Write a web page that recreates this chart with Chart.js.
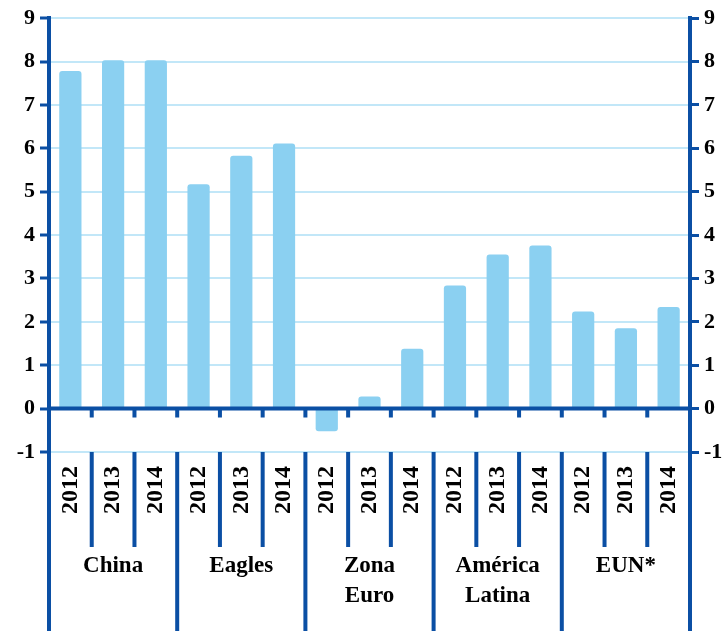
<!DOCTYPE html>
<html>
<head>
<meta charset="utf-8">
<script src="https://cdn.jsdelivr.net/npm/chart.js@4.4.1/dist/chart.umd.min.js"></script>
<style>
  html, body { margin: 0; padding: 0; background: #fff; }
  #wrap { width: 728px; height: 631px; position: relative; }
</style>
</head>
<body>
<div id="wrap"><canvas id="chart"></canvas></div>
<script>
const years = ["2012", "2013", "2014"];
const groups = [["China"], ["Eagles"], ["Zona", "Euro"], ["América", "Latina"], ["EUN*"]];
const labels = groups.flatMap(() => years);
const values = [7.78, 8.03, 8.03, 5.17, 5.83, 6.11, -0.52, 0.28, 1.38, 2.84, 3.55, 3.76, 2.24, 1.85, 2.34];
const yMin = -1;
const yMax = 9;

const dark = "#0b4fa4";
const light = "#c2e7f8";
const barColor = "#8bd0f1";
const serif = "'Liberation Serif', 'Times New Roman', serif";

// separators, zero line and group names under the plot
const extras = {
  id: "extras",
  afterDatasetsDraw(chart) {
    const { ctx, chartArea, scales } = chart;
    const y0 = scales.y.getPixelForValue(0);
    ctx.save();
    ctx.strokeStyle = dark;
    ctx.lineWidth = 4;
    ctx.beginPath();
    ctx.moveTo(chartArea.left, y0);
    ctx.lineTo(chartArea.right, y0);
    ctx.stroke();
    ctx.restore();
  },
  afterDraw(chart) {
    const { ctx, chartArea, scales } = chart;
    const x = scales.x;
    const y0 = scales.y.getPixelForValue(0);
    const bottom = chart.height;
    ctx.save();
    ctx.strokeStyle = dark;
    ctx.lineWidth = 4;
    ctx.beginPath();
    for (let i = 1; i < labels.length; i++) {
      const bx = (x.getPixelForValue(i - 1) + x.getPixelForValue(i)) / 2;
      ctx.moveTo(bx, y0);
      ctx.lineTo(bx, y0 + 9);
      ctx.moveTo(bx, chartArea.bottom);
      ctx.lineTo(bx, i % 3 === 0 ? bottom : 547);
    }
    ctx.moveTo(chartArea.left, chartArea.bottom);
    ctx.lineTo(chartArea.left, bottom);
    ctx.moveTo(chartArea.right, chartArea.bottom);
    ctx.lineTo(chartArea.right, bottom);
    ctx.stroke();

    ctx.fillStyle = "#000";
    ctx.font = "bold 23px " + serif;
    ctx.textAlign = "center";
    ctx.textBaseline = "middle";
    groups.forEach((g, gi) => {
      const cx = x.getPixelForValue(gi * 3 + 1);
      g.forEach((line, li) => ctx.fillText(line, cx, 566 + li * 30));
    });
    ctx.restore();
  },
};

const yTicks = {
  stepSize: 1,
  color: "#000",
  padding: 5,
  font: { family: serif, size: 22, weight: "bold" },
};

new Chart(document.getElementById("chart"), {
  type: "bar",
  data: {
    labels: labels,
    datasets: [
      {
        data: values,
        backgroundColor: barColor,
        borderRadius: 3,
        barPercentage: 0.52,
        categoryPercentage: 1,
      },
    ],
  },
  options: {
    responsive: true,
    maintainAspectRatio: false,
    animation: false,
    layout: { padding: { top: 7 } },
    plugins: { legend: { display: false }, tooltip: { enabled: false } },
    scales: {
      x: {
        grid: { display: false },
        border: { display: false },
        ticks: {
          color: "#000",
          autoSkip: false,
          minRotation: 90,
          maxRotation: 90,
          padding: 6,
          font: { family: serif, size: 24, weight: "bold" },
        },
        afterFit(scale) {
          scale.height = 179;
        },
      },
      y: {
        min: yMin,
        max: yMax,
        ticks: yTicks,
        grid: {
          color: (c) => (c.tick && c.tick.value === 0 ? dark : light),
          lineWidth: 2,
          tickColor: dark,
          tickWidth: 3,
          tickLength: 9,
        },
        border: { color: dark, width: 4 },
        afterFit(scale) {
          scale.width = 49;
        },
      },
      y2: {
        position: "right",
        min: yMin,
        max: yMax,
        ticks: yTicks,
        grid: {
          drawOnChartArea: false,
          tickColor: dark,
          tickWidth: 3,
          tickLength: 9,
        },
        border: { color: dark, width: 4 },
        afterFit(scale) {
          scale.width = 38;
        },
      },
    },
  },
  plugins: [extras],
});
</script>
</body>
</html>
